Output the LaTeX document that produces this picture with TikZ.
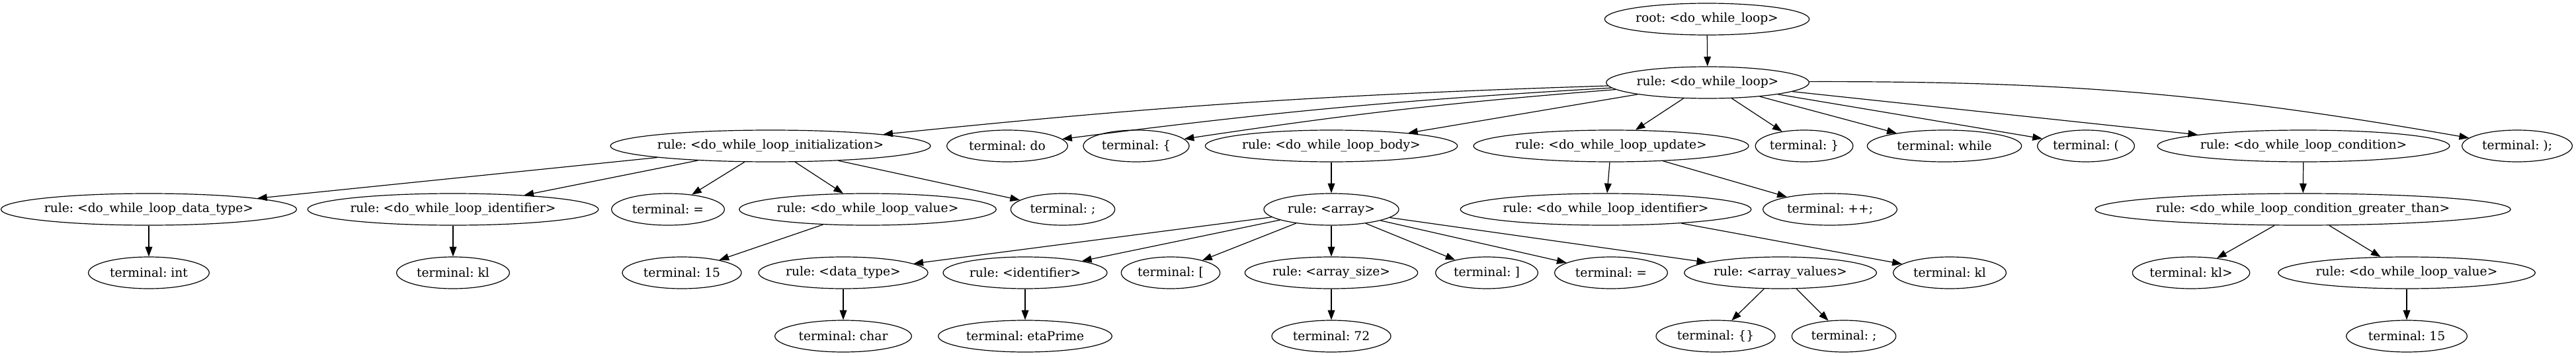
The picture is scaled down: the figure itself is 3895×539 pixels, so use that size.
\documentclass[tikz,border=0pt]{standalone}
\usepackage{fontspec}
\setmainfont{DejaVu Serif}
\usetikzlibrary{arrows.meta,shapes.geometric}

\begin{document}
\frenchspacing
\begin{tikzpicture}[x=0.75pt,y=-0.75pt]
    \tikzstyle{tree} = [ellipse, draw, line width=0.9pt, inner sep=0pt, minimum height=36pt, font=\fontsize{14}{16}\selectfont];
    \tikzstyle{line} = [draw, line width=0.9pt, -{Triangle[length=11pt,width=8pt]}];
    \useasboundingbox (0,0) rectangle (3895,539);
    % rank 0 and 1
    \node[tree, minimum width=232pt] (root) at (2581,29) {root: <do\_while\_loop>};
    \node[tree, minimum width=230pt] (dwl) at (2582,125) {rule: <do\_while\_loop>};
    % rank 2
    \node[tree, minimum width=355pt] (init) at (1165,221) {rule: <do\_while\_loop\_initialization>};
    \node[tree, minimum width=137pt] (tdo) at (1523,221) {terminal: do};
    \node[tree, minimum width=120pt] (tlbrace) at (1718,221) {terminal: \{};
    \node[tree, minimum width=280pt] (body) at (2013,221) {rule: <do\_while\_loop\_body>};
    \node[tree, minimum width=312pt] (update) at (2436,221) {rule: <do\_while\_loop\_update>};
    \node[tree, minimum width=110pt] (trbrace) at (2728,221) {terminal: \}};
    \node[tree, minimum width=175pt] (twhile) at (2940,221) {terminal: while};
    \node[tree, minimum width=110pt] (tlparen) at (3154,221) {terminal: (};
    \node[tree, minimum width=325pt] (cond) at (3483,221) {rule: <do\_while\_loop\_condition>};
    \node[tree, minimum width=125pt] (trparen) at (3806,221) {terminal: );};
    % rank 3
    \node[tree, minimum width=330pt] (dtype) at (225,317) {rule: <do\_while\_loop\_data\_type>};
    \node[tree, minimum width=322pt] (ident) at (685,317) {rule: <do\_while\_loop\_identifier>};
    \node[tree, minimum width=128pt] (teqa) at (1010,317) {terminal: =};
    \node[tree, minimum width=288pt] (valuea) at (1312,317) {rule: <do\_while\_loop\_value>};
    \node[tree, minimum width=118pt] (tsemia) at (1607,317) {terminal: ;};
    \node[tree, minimum width=153pt] (array) at (2013,317) {rule: <array>};
    \node[tree, minimum width=323pt] (identb) at (2428,317) {rule: <do\_while\_loop\_identifier>};
    \node[tree, minimum width=152pt] (tpp) at (2767,317) {terminal: ++;};
    \node[tree, minimum width=455pt] (greater) at (3482,317) {rule: <do\_while\_loop\_condition\_greater\_than>};
    % rank 4
    \node[tree, minimum width=137pt] (tint) at (225,413) {terminal: int};
    \node[tree, minimum width=128pt] (tkla) at (685,413) {terminal: kl};
    \node[tree, minimum width=135pt] (tfifteena) at (1031,413) {terminal: 15};
    \node[tree, minimum width=192pt] (datatype) at (1275,413) {rule: <data\_type>};
    \node[tree, minimum width=186pt] (identifier) at (1550,413) {rule: <identifier>};
    \node[tree, minimum width=112pt] (tlbrack) at (1770,413) {terminal: [};
    \node[tree, minimum width=196pt] (arrsize) at (2013,413) {rule: <array\_size>};
    \node[tree, minimum width=116pt] (trbrack) at (2248,413) {terminal: ]};
    \node[tree, minimum width=128pt] (teqb) at (2436,413) {terminal: =};
    \node[tree, minimum width=218pt] (arrvals) at (2692,413) {rule: <array\_values>};
    \node[tree, minimum width=128pt] (tklb) at (2948,413) {terminal: kl};
    \node[tree, minimum width=128pt] (tklgt) at (3313,413) {terminal: kl>};
    \node[tree, minimum width=288pt] (valueb) at (3639,413) {rule: <do\_while\_loop\_value>};
    % rank 5
    \node[tree, minimum width=155pt] (tchar) at (1275,509) {terminal: char};
    \node[tree, minimum width=197pt] (teta) at (1550,509) {terminal: etaPrime};
    \node[tree, minimum width=135pt] (tseventwo) at (2013,509) {terminal: 72};
    \node[tree, minimum width=135pt] (tbraces) at (2594,509) {terminal: \{\}};
    \node[tree, minimum width=118pt] (tsemib) at (2788,509) {terminal: ;};
    \node[tree, minimum width=137pt] (tfifteenb) at (3639,509) {terminal: 15};
    \tikzstyle{every path}=[line]
    \path (root) -- (dwl);
    \path (dwl) to[bend right=2] (init);
    \path (dwl) to[bend right=2] (tdo);
    \path (dwl) to[bend right=2] (tlbrace);
    \foreach \c in {body,update,trbrace,twhile,tlparen,cond}
        \path (dwl) -- (\c);
    \path (dwl) to[bend left=5] (trparen);
    \foreach \c in {dtype,ident,teqa,valuea,tsemia}
        \path (init) -- (\c);
    \path (dtype) -- (tint);
    \path (ident) -- (tkla);
    \path (valuea) -- (tfifteena);
    \path (body) -- (array);
    \foreach \c in {datatype,identifier,tlbrack,arrsize,trbrack,teqb,arrvals}
        \path (array) -- (\c);
    \path (datatype) -- (tchar);
    \path (identifier) -- (teta);
    \path (arrsize) -- (tseventwo);
    \path (arrvals) -- (tbraces);
    \path (arrvals) -- (tsemib);
    \path (update) -- (identb);
    \path (update) -- (tpp);
    \path (identb) -- (tklb);
    \path (cond) -- (greater);
    \path (greater) -- (tklgt);
    \path (greater) -- (valueb);
    \path (valueb) -- (tfifteenb);
\end{tikzpicture}
\end{document}
